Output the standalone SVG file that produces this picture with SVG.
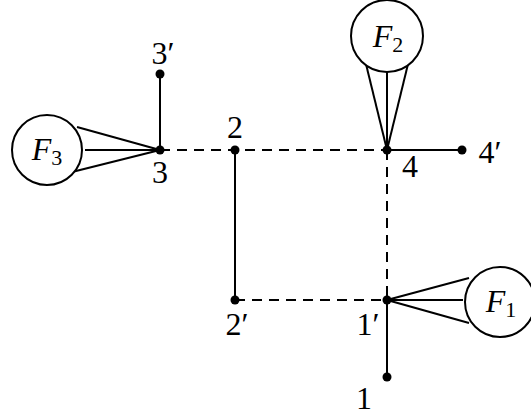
<svg xmlns="http://www.w3.org/2000/svg" width="531" height="418" viewBox="0 0 531 418">
<style>
.s{stroke:#000;stroke-width:2;fill:none}
.d{stroke:#000;stroke-width:2;fill:none;stroke-dasharray:10 7}
.c{stroke:#000;stroke-width:2;fill:#fff}
.p{fill:#000}
.t{font-family:"Liberation Serif",serif;font-size:32px;text-anchor:middle;fill:#000}
.i{font-style:italic}
.b{font-size:22px}
</style>
<rect width="531" height="418" fill="#fff"/>
<g id="connectors">
<line class="d" x1="160" y1="150" x2="387" y2="150"/>
<line class="d" x1="235" y1="300" x2="387" y2="300"/>
<line class="d" x1="387" y1="150" x2="387" y2="300"/>
<line class="s" x1="160" y1="150" x2="160" y2="74"/>
<line class="s" x1="235" y1="150" x2="235" y2="300"/>
<line class="s" x1="387" y1="150" x2="462" y2="150"/>
<line class="s" x1="387" y1="300" x2="387" y2="377"/>
<line class="s" x1="160" y1="150" x2="77" y2="127"/>
<line class="s" x1="160" y1="150" x2="85" y2="150"/>
<line class="s" x1="160" y1="150" x2="72" y2="172"/>
<line class="s" x1="387" y1="150" x2="365" y2="60"/>
<line class="s" x1="387" y1="150" x2="387" y2="67"/>
<line class="s" x1="387" y1="150" x2="409" y2="60"/>
<line class="s" x1="387" y1="300" x2="469" y2="278"/>
<line class="s" x1="387" y1="300" x2="463" y2="300"/>
<line class="s" x1="387" y1="300" x2="469" y2="323"/>
</g>
<g id="F3"><circle class="c" cx="47" cy="150" r="35"/><text class="t" x="47" y="160"><tspan class="i">F</tspan><tspan class="b" dy="5">3</tspan></text></g>
<g id="F2"><circle class="c" cx="387" cy="36" r="36"/><text class="t" x="388" y="47"><tspan class="i">F</tspan><tspan class="b" dy="5">2</tspan></text></g>
<g id="F1"><circle class="c" cx="500" cy="302" r="35"/><text class="t" x="501" y="312"><tspan class="i">F</tspan><tspan class="b" dy="5">1</tspan></text></g>
<g id="n3p"><circle class="p" cx="160" cy="74" r="4.5"/><text class="t" x="163" y="64">3′</text></g>
<g id="n3"><circle class="p" cx="160" cy="150" r="4.5"/><text class="t" x="160" y="183">3</text></g>
<g id="n2"><circle class="p" cx="235" cy="150" r="4.5"/><text class="t" x="235" y="138">2</text></g>
<g id="n2p"><circle class="p" cx="235" cy="300" r="4.5"/><text class="t" x="237" y="335">2′</text></g>
<g id="n4"><circle class="p" cx="387" cy="150" r="4.5"/><text class="t" x="410" y="177">4</text></g>
<g id="n4p"><circle class="p" cx="462" cy="150" r="4.5"/><text class="t" x="490" y="163">4′</text></g>
<g id="n1p"><circle class="p" cx="387" cy="300" r="4.5"/><text class="t" x="368" y="335">1′</text></g>
<g id="n1"><circle class="p" cx="387" cy="377" r="4.5"/><text class="t" x="364" y="409">1</text></g>
</svg>
